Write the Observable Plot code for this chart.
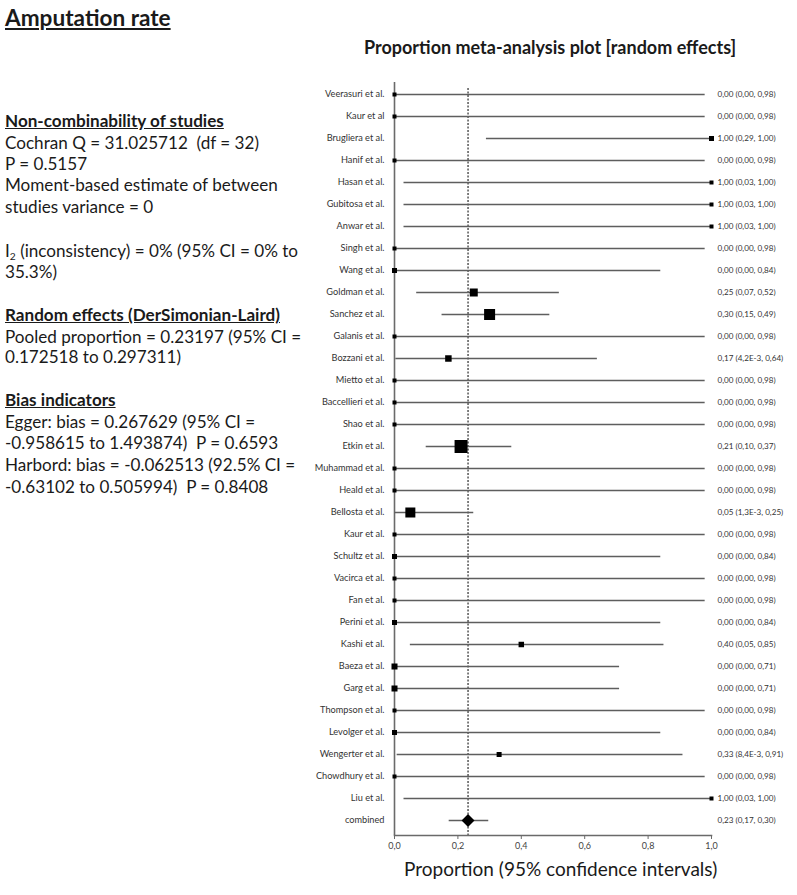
<!DOCTYPE html>
<html><head><meta charset="utf-8">
<script src="https://cdn.jsdelivr.net/npm/d3@7"></script>
<script src="https://cdn.jsdelivr.net/npm/@observablehq/plot@0.6"></script>
<style>
body{margin:0;background:#fff;font-family:Lato, "Open Sans", sans-serif;}
#wrap{position:relative;width:797px;height:895px;overflow:hidden;background:#fff;}
#wrap svg{position:absolute;left:0;top:0;}
.t{position:absolute;white-space:nowrap;color:#1a1a1a;line-height:20px;font-size:17.1px;left:5px;}
.h{font-weight:bold;text-decoration:underline;}
sub{font-size:0.6em;vertical-align:-0.25em;}
</style></head><body><div id="wrap"></div>
<script>
// ---- data ----
const studies = ["Veerasuri et al.","Kaur et al","Brugliera et al.","Hanif et al.","Hasan et al.","Gubitosa et al.","Anwar et al.","Singh et al.","Wang et al.","Goldman et al.","Sanchez et al.","Galanis et al.","Bozzani et al.","Mietto et al.","Baccellieri et al.","Shao et al.","Etkin et al.","Muhammad et al.","Heald et al.","Bellosta et al.","Kaur et al.","Schultz et al.","Vacirca et al.","Fan et al.","Perini et al.","Kashi et al.","Baeza et al.","Garg et al.","Thompson et al.","Levolger et al.","Wengerter et al.","Chowdhury et al.","Liu et al."];
const estimate = [0,0,1,0,1,1,1,0,0,0.25,0.30,0,0.17,0,0,0,0.21,0,0,0.05,0,0,0,0,0,0.40,0,0,0,0,0.33,0,1];
const lower    = [0,0,0.29,0,0.03,0.03,0.03,0,0,0.07,0.15,0,0.0042,0,0,0,0.10,0,0,0.0013,0,0,0,0,0,0.05,0,0,0,0,0.0084,0,0.03];
const upper    = [0.98,0.98,1,0.98,1,1,1,0.98,0.84,0.52,0.49,0.98,0.64,0.98,0.98,0.98,0.37,0.98,0.98,0.25,0.98,0.84,0.98,0.98,0.84,0.85,0.71,0.71,0.98,0.84,0.91,0.98,1];
const weight   = [16,16,25,16,16,16,16,16,25,64,121,16,42,16,16,16,169,16,16,100,16,25,16,16,25,30,36,36,16,25,25,16,16];
const pooledLabel = "combined";
const pooledEst = 0.23197, pooledLo = 0.172518, pooledHi = 0.297311;
const xTicks = [0, 0.2, 0.4, 0.6, 0.8, 1.0];

// ---- formatting ----
const fnum = v => (v > 0 && v < 0.01)
  ? d3.format(".1e")(v).replace(".", ",").replace("e", "E")
  : v.toFixed(2).replace(".", ",");
const ciLabel = (e, l, h) => `${fnum(e)} (${fnum(l)}, ${fnum(h)})`;

const rows = studies.map((s, i) => ({study: s, est: estimate[i], lo: lower[i], hi: upper[i], w: weight[i], label: ciLabel(estimate[i], lower[i], upper[i])}));
const pooled = [{study: pooledLabel, est: pooledEst, lo: pooledLo, hi: pooledHi, label: ciLabel(pooledEst, pooledLo, pooledHi)}];
const allRows = rows.concat(pooled);

const chart = Plot.plot({
  width: 797, height: 895,
  marginLeft: 394, marginRight: 86, marginTop: 78, marginBottom: 60,
  style: {fontFamily: "Lato, 'Open Sans', sans-serif", background: "transparent", color: "#333"},
  x: {domain: [0, 1]},
  y: {type: "point", domain: allRows.map(d => d.study), padding: 0.5},
  r: {type: "sqrt", domain: [0, 169], range: [0, 7.34]},
  marks: [
    Plot.ruleX([pooledEst], {stroke: "#000", strokeWidth: 1, strokeDasharray: "2,1.5", insetTop: 10}),
    Plot.ruleX([0], {stroke: "#6a6a6a", strokeWidth: 1.6, insetTop: 4}),
    Plot.frame({anchor: "bottom", stroke: "#6a6a6a", strokeWidth: 1.6}),
    Plot.ruleY(allRows, {y: "study", x1: "lo", x2: "hi", stroke: "#5e5e5e", strokeWidth: 1.3}),
    Plot.dot(rows, {x: "est", y: "study", r: "w", symbol: "square", fill: "#000", stroke: null}),
    Plot.dot(pooled, {x: "est", y: "study", r: 5.8, symbol: "diamond2", fill: "#000", stroke: null}),
    Plot.text(allRows, {y: "study", text: "label", frameAnchor: "right", textAnchor: "start", dx: 6, fontSize: 8.1, fill: "#333"}),
    Plot.axisY({tickSize: 0, tickPadding: 10, fontSize: 9.2, label: null, color: "#333"}),
    Plot.axisX({ticks: xTicks, tickFormat: d => d.toFixed(1).replace(".", ","), tickSize: 4, tickPadding: 3, fontSize: 9, label: null, stroke: "#6a6a6a", color: "#444"})
  ]
});
const wrap = document.getElementById("wrap");
wrap.appendChild(chart);

// ---- text blocks ----
const texts = [
  {y: 18, html: "Amputation rate", cls: "h", size: 22.6},
  {y: 47, html: "Proportion meta-analysis plot [random effects]", bold: true, size: 18, left: 364},
  {y: 869, html: "Proportion (95% confidence intervals)", size: 19, left: 404},
  {y: 121, html: "Non-combinability of studies", cls: "h"},
  {y: 143, html: "Cochran Q = 31.025712&nbsp; (df = 32)"},
  {y: 164, html: "P = 0.5157"},
  {y: 185, html: "Moment-based estimate of between"},
  {y: 207, html: "studies variance = 0"},
  {y: 251, html: "I<sub>2</sub> (inconsistency) = 0% (95% CI = 0% to"},
  {y: 272, html: "35.3%)"},
  {y: 315, html: "Random effects (DerSimonian-Laird)", cls: "h"},
  {y: 337, html: "Pooled proportion = 0.23197 (95% CI ="},
  {y: 357, html: "0.172518 to 0.297311)"},
  {y: 400, html: "Bias indicators", cls: "h"},
  {y: 422, html: "Egger: bias = 0.267629 (95% CI ="},
  {y: 443, html: "-0.958615 to 1.493874)&nbsp; P = 0.6593"},
  {y: 465, html: "Harbord: bias = -0.062513 (92.5% CI ="},
  {y: 487, html: "-0.63102 to 0.505994)&nbsp; P = 0.8408"}
];
for (const t of texts) {
  const el = document.createElement("div");
  el.className = "t" + (t.cls ? " " + t.cls : "");
  el.innerHTML = t.html;
  const lh = 24;
  el.style.lineHeight = lh + "px";
  el.style.top = (t.y - lh / 2) + "px";
  if (t.size) el.style.fontSize = t.size + "px";
  if (t.bold) el.style.fontWeight = "bold";
  if (t.left != null) el.style.left = t.left + "px";
  wrap.appendChild(el);
}
</script></body></html>
